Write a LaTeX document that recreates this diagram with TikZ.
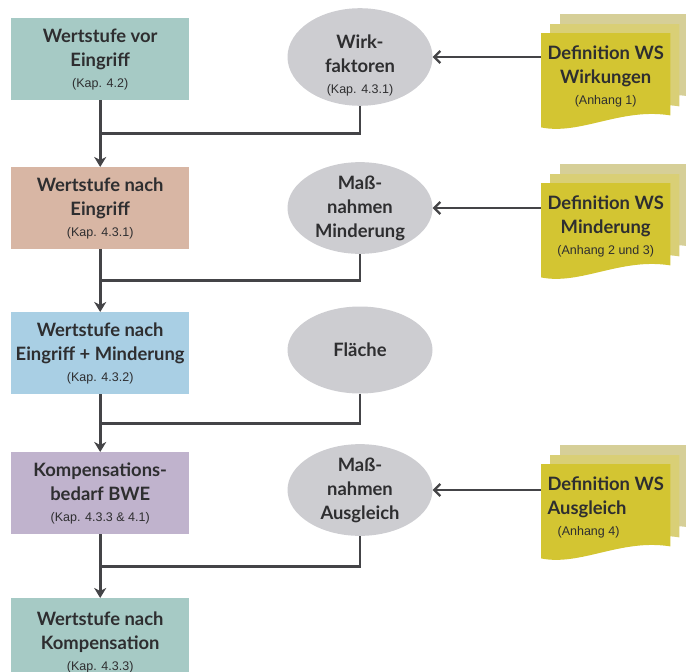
\documentclass[tikz,border=0pt]{standalone}
\usepackage{fontspec}
\setmainfont{Lato}
\newfontfamily\kapfont{Liberation Sans}
\usetikzlibrary{arrows.meta,calc,backgrounds,shapes.geometric}
\definecolor{ink}{HTML}{2E2E30}
\definecolor{linedark}{HTML}{444447}
\definecolor{tealbox}{HTML}{A6CAC5}
\definecolor{salmonbox}{HTML}{D8B6A4}
\definecolor{skybox}{HTML}{A9CFE4}
\definecolor{lilacbox}{HTML}{C0B3CD}
\definecolor{ellgray}{HTML}{CDCDD1}
\definecolor{docfront}{HTML}{D3C532}
\definecolor{docmid}{HTML}{D9CF76}
\definecolor{docback}{HTML}{D6CF98}
\newcommand{\stufefont}{\fontsize{18.4}{24}\selectfont\bfseries}
\newcommand{\kap}[1]{\\[-3pt]{\kapfont\fontsize{12.5}{13}\selectfont\mdseries #1}}
\tikzset{
  stufe/.style={rectangle,minimum width=178pt,minimum height=82pt,anchor=north west,
    align=center,inner sep=0pt,font=\stufefont,text=ink},
  faktor/.style={ellipse,fill=ellgray,minimum width=145pt,minimum height=87pt,
    inner sep=0pt,align=center,font=\stufefont,text=ink},
  defdoc/.style={rectangle,minimum width=129pt,minimum height=86pt,anchor=north west,
    align=center,inner sep=0pt,font=\stufefont,text=ink},
  flow/.style={-{Stealth[length=10pt,width=12pt,inset=3pt]},line width=2.6pt,color=linedark},
  tieline/.style={line width=2.6pt,color=linedark},
  feed/.style={-{Straight Barb[length=6pt,width=12pt,line width=2.2pt]},line width=2.6pt,color=linedark},
}
% stacked sheets behind a document node
\newcommand{\docstack}[1]{%
  \begin{scope}[on background layer]
    \foreach \d/\c in {19/docback,9/docmid,0/docfront}{
      \fill[\c] ($(#1.north west)+(\d,-\d)$) -- ($(#1.north east)+(\d,-\d)$)
        -- ($(#1.south east)+(\d,-\d-4)$)
        .. controls ($(#1.south)+(\d+15,-\d-12)$) and ($(#1.south)+(\d-25,-\d+16)$)
        .. ($(#1.south west)+(\d,-\d+8)$) -- cycle;
    }
  \end{scope}}

\begin{document}
\begin{tikzpicture}[x=1pt,y=-1pt]
  \useasboundingbox (0,0) rectangle (686,672);

  \node[stufe,fill=tealbox] (vor) at (11,18) {Wertstufe vor\\Eingriff\kap{(Kap. 4.2)}};
  \node[stufe,fill=salmonbox] (nach) at (11,167) {Wertstufe nach\\Eingriff\kap{(Kap. 4.3.1)}};
  \node[stufe,fill=skybox] (minder) at (11,312) {Wertstufe nach\\Eingriff + Minderung\kap{(Kap. 4.3.2)}};
  \node[stufe,fill=lilacbox] (bedarf) at (11,452) {Kompensations-\\bedarf BWE\kap{(Kap. 4.3.3 \& 4.1)}};
  \node[stufe,fill=tealbox,minimum height=88pt] (komp) at (11,598) {Wertstufe nach\\Kompensation\kap{(Kap. 4.3.3)}};

  \node[faktor] (wirk) at (360,57) {\raisebox{-9pt}[\height][\depth]{%
    \begin{tabular}{@{}c@{}}Wirk-\\faktoren\kap{(Kap. 4.3.1)}\end{tabular}}};
  \node[faktor] (massmin) at (360,208) {Maß-\\nahmen\\Minderung};
  \node[faktor] (flaeche) at (360,350) {Fläche};
  \node[faktor] (massaus) at (360,490) {Maß-\\nahmen\\Ausgleich};

  \node[defdoc] (defwirk) at (541,33) {Definition WS\\Wirkungen\kap{(Anhang 1)}};
  \node[defdoc] (defmin) at (541,183) {Definition WS\\Minderung\kap{(Anhang 2 und 3)}};
  \node[defdoc,align=left] (defaus) at (541,464) {Definition WS\\Ausgleich\kap{\hspace*{10pt}(Anhang 4)}};
  \docstack{defwirk}
  \docstack{defmin}
  \docstack{defaus}

  \draw[flow] (vor.south) -- (nach.north);
  \draw[flow] (nach.south) -- (minder.north);
  \draw[flow] (minder.south) -- (bedarf.north);
  \draw[flow] (bedarf.south) -- (komp.north);

  \draw[tieline] (wirk.south) |- ($(vor.south)!.5!(nach.north)$);
  \draw[tieline] (massmin.south) |- ($(nach.south)!.5!(minder.north)$);
  \draw[tieline] (flaeche.south) |- ($(minder.south)!.5!(bedarf.north)$);
  \draw[tieline] (massaus.south) |- ($(bedarf.south)!.5!(komp.north)$);

  \draw[feed] (defwirk.west |- wirk.east) -- (wirk.east);
  \draw[feed] (defmin.west |- massmin.east) -- (massmin.east);
  \draw[feed] (defaus.west |- massaus.east) -- (massaus.east);
\end{tikzpicture}
\end{document}
